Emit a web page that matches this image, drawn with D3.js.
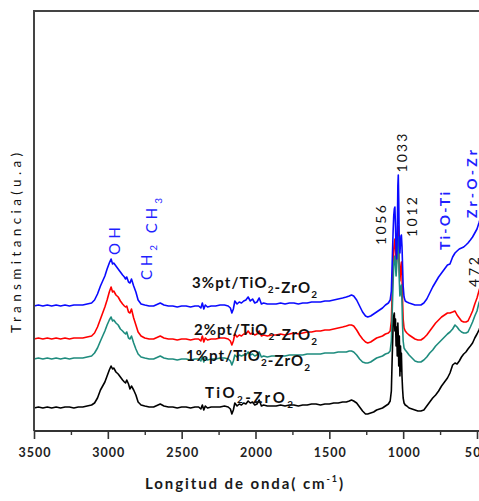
<!DOCTYPE html>
<html><head><meta charset="utf-8">
<script src="https://cdn.jsdelivr.net/npm/d3@7"></script>
<style>body{margin:0;background:#fff}svg{display:block}</style>
</head><body><svg id="c" width="479" height="501"></svg>
<script>
// wavenumber grid (cm^-1)
const wavenumbers = [
3500,3470,3440,3410,3380,3350,3320,3290,3260,3230,
3200,3170,3140,3110,3090,3070,3050,3035,3020,3005,
2990,2978,2968,2960,2945,2930,2915,2900,2888,2880,
2872,2860,2850,2840,2825,2810,2795,2775,2750,2720,
2690,2660,2645,2620,2590,2560,2530,2500,2470,2440,
2410,2385,2370,2360,2350,2340,2325,2300,2270,2240,
2210,2185,2170,2160,2150,2140,2125,2110,2095,2080,
2065,2050,2035,2020,2005,1990,1975,1960,1945,1920,
1890,1860,1830,1800,1770,1740,1710,1680,1650,1620,
1590,1560,1530,1500,1470,1440,1410,1385,1365,1350,
1335,1315,1295,1275,1255,1240,1220,1200,1180,1160,
1140,1120,1100,1088,1080,1074,1068,1064,1060,1056,
1052,1048,1044,1040,1036,1033,1030,1026,1022,1018,
1015,1012,1008,1004,1000,994,986,975,960,940,
920,900,880,860,840,820,800,780,760,740,
720,700,683,665,649,635,620,605,590,575,
561,545,530,515,500,487,475];

// transmittance (a.u., offset traces)
const tio2zro2 = [
23,24,23,24,23,24,23,24,24,23,
24,24,25,26,28,33,41,45,49,55,
61,65,62,63,59,57,54,51,49,48,
51,47,42,45,41,36,29,26,25,24,
24,26,27,25,24,24,23,24,24,23,
24,24,22,26,21,25,23,24,24,24,
25,24,22,17,21,28,25,27,26,28,
27,30,28,29,26,27,31,25,26,25,
25,25,26,25,26,26,25,26,26,27,
27,26,27,27,28,28,29,29,30,31,
30,28,24,20,17,17,18,19,21,22,
23,25,27,30,40,75,105,115,118,100,
112,85,104,75,108,95,65,95,55,85,
60,78,55,42,33,28,26,25,23,22,
21,20,20,21,25,29,33,36,40,45,
49,53,58,66,68,67,70,74,77,79,
82,85,88,93,97,101,105];

const pt1 = [
72,73,72,73,72,73,72,73,72,73,
73,73,74,75,78,83,90,95,100,106,
111,114,110,111,108,106,102,100,98,97,
99,93,92,95,88,82,77,74,73,72,
72,74,75,73,72,72,71,72,72,71,
72,72,70,75,69,73,71,72,72,73,
73,72,70,66,70,76,74,76,75,76,
76,79,76,77,75,76,79,74,75,74,
75,75,75,75,76,76,76,76,77,77,
77,77,78,78,78,79,79,79,80,80,
79,76,72,69,68,68,69,71,73,74,
75,77,78,80,90,120,150,165,172,175,
165,155,165,180,192,194,180,150,135,140,
144,146,130,105,90,83,81,79,76,73,
70,69,69,71,74,78,81,85,88,91,
94,97,99,102,106,104,101,99,98,98,
99,104,109,115,120,128,133];

const pt2 = [
92,93,92,93,92,93,92,93,92,93,
93,93,94,95,98,104,112,118,124,131,
139,144,139,140,136,134,130,127,125,124,
125,119,118,122,113,106,99,95,93,92,
92,94,95,93,92,92,91,92,92,91,
92,92,90,95,89,93,91,92,92,93,
93,92,90,86,90,97,94,96,95,97,
97,100,97,98,96,97,100,95,96,95,
96,96,97,96,97,98,97,98,99,99,
100,100,101,101,102,103,104,105,106,106,
105,101,96,92,89,88,89,91,93,94,
95,97,98,100,110,140,170,182,188,192,
180,165,170,185,200,205,190,160,150,160,
166,169,155,130,112,103,100,98,96,94,
92,91,91,93,96,100,104,108,111,114,
116,118,118,119,120,116,113,110,109,109,
110,115,120,127,133,140,146];

const pt3 = [
125,126,125,126,125,126,125,126,125,126,
126,126,127,128,131,137,145,150,155,162,
168,172,167,168,165,162,159,156,154,152,
154,149,148,152,145,139,131,127,126,125,
125,127,128,126,125,125,124,125,125,124,
125,125,123,128,122,126,124,125,125,126,
126,125,123,118,122,130,127,129,128,130,
131,134,130,132,128,129,133,127,128,127,
127,127,128,127,128,128,127,128,128,129,
129,129,130,130,131,132,133,134,135,136,
135,131,125,119,115,114,115,117,119,121,
123,126,128,131,140,170,200,215,222,224,
205,180,172,195,245,256,230,185,178,188,
195,196,185,165,145,134,130,129,128,127,
126,126,126,128,132,138,144,149,154,158,
162,166,167,174,178,180,182,183,184,186,
188,191,194,198,202,208,214];

const xTickValues = [3500,3000,2500,2000,1500,1000,500];
const xMinorTicks = [3250,2750,2250,1750,1250,750];
const seriesNames = ["TiO2-ZrO2","1%pt/TiO2-ZrO2","2%pt/TiO2-ZrO2","3%pt/TiO2-ZrO2"];
const seriesColors = ["#000000","#1e8c7e","#ff0000","#0a0aff"];

const svg = d3.select("#c");
svg.append("rect").attr("width",479).attr("height",501).attr("fill","#fff");

const x = d3.scaleLinear().domain([3500,500]).range([34,477]);
const y = d3.scaleLinear().domain([0,420]).range([431,11]);

const F = "Lato, 'Open Sans', sans-serif";

// traces (draw order: red, teal, black, blue)
const allSeries = [tio2zro2, pt1, pt2, pt3];
const line = d3.line().x((d,i)=>x(wavenumbers[i])).y(d=>y(d)).curve(d3.curveLinear);
[2,1,0,3].forEach(k=>{
  svg.append("path").datum(allSeries[k]).attr("d",line)
    .attr("fill","none").attr("stroke",seriesColors[k]).attr("stroke-width",1.6)
    .attr("stroke-linejoin","round");
});

// frame
svg.append("line").attr("x1",34).attr("x2",479).attr("y1",11).attr("y2",11).attr("stroke","#444").attr("stroke-width",2);
svg.append("line").attr("x1",34).attr("x2",34).attr("y1",10).attr("y2",431).attr("stroke","#444").attr("stroke-width",2);

// x axis
const gx = svg.append("g").attr("transform","translate(0,431)");
gx.call(d3.axisBottom(x).tickValues(xTickValues).tickSize(8).tickSizeOuter(0).tickPadding(9).tickFormat(d3.format("d")));
gx.select(".domain").remove();
gx.selectAll(".tick line").attr("stroke","#333").attr("stroke-width",1.6);
gx.selectAll(".tick text").attr("font-family",F).attr("font-weight","bold").attr("font-size",12.5)
  .attr("fill","#222").attr("textLength",d=>d===500?null:32).attr("lengthAdjust","spacing")
  .attr("letter-spacing",d=>d===500?"1.2px":null);
gx.append("line").attr("x1",34).attr("x2",479).attr("y1",0).attr("y2",0).attr("stroke","#333").attr("stroke-width",2);
const gm = svg.append("g").attr("transform","translate(0,431)");
gm.call(d3.axisBottom(x).tickValues(xMinorTicks).tickSize(4).tickSizeOuter(0).tickFormat(""));
gm.select(".domain").remove();
gm.selectAll(".tick line").attr("stroke","#333").attr("stroke-width",1.4);

// axis titles
const xt = svg.append("text").attr("x",244).attr("y",489).attr("text-anchor","middle")
  .attr("font-family",F).attr("font-weight","bold").attr("font-size",15).attr("fill","#1a1a1a")
  .attr("textLength",198).attr("lengthAdjust","spacing");
xt.append("tspan").text("Longitud de onda( cm");
xt.append("tspan").attr("font-size",9).attr("dy",-7).text("-1");
xt.append("tspan").attr("dy",7).text(")");

svg.append("text").attr("transform","translate(21,243) rotate(-90)").attr("text-anchor","middle")
  .attr("font-family",F).attr("font-size",13.5).attr("fill","#111")
  .attr("textLength",180).attr("lengthAdjust","spacing").text("Transmitancia(u.a)");

// sample labels
function chem(g, parts){
  parts.forEach(p=>{
    if(p.sub){ g.append("tspan").attr("font-size",10).attr("dy",5).text(p.t); g.append("tspan").attr("dy",-5).text(""); }
    else g.append("tspan").text(p.t);
  });
}
const sampleLabels = [
  {x:192,y:288,w:125,parts:[{t:"3%pt/TiO"},{t:"2",sub:1},{t:"-ZrO"},{t:"2",sub:1}]},
  {x:194,y:335,w:123,parts:[{t:"2%pt/TiO"},{t:"2",sub:1},{t:"-ZrO"},{t:"2",sub:1}]},
  {x:186,y:361,w:124,parts:[{t:"1%pt/TiO"},{t:"2",sub:1},{t:"-ZrO"},{t:"2",sub:1}]},
  {x:205,y:398,w:88,parts:[{t:"TiO"},{t:"2",sub:1},{t:"-ZrO"},{t:"2",sub:1}]}
];
sampleLabels.forEach(s=>{
  const t = svg.append("text").attr("x",s.x).attr("y",s.y).attr("font-family",F)
    .attr("font-weight","bold").attr("font-size",15).attr("fill","#111")
    .attr("textLength",s.w).attr("lengthAdjust","spacing");
  chem(t, s.parts);
});

// peak annotations (rotated)
function vlabel(bx, cy, txt, opts){
  const t = svg.append("text").attr("transform",`translate(${bx},${cy}) rotate(-90)`)
    .attr("text-anchor","middle").attr("font-family",F).attr("font-size",opts.size||14)
    .attr("font-weight",opts.bold?"bold":"normal").attr("fill",opts.color||"#111");
  if(opts.len) t.attr("textLength",opts.len).attr("lengthAdjust","spacing");
  if(typeof txt==="string") t.text(txt); else chem(t, txt);
}
vlabel(386,225,"1056",{len:40});
vlabel(407,153,"1033",{len:39});
vlabel(417,217,"1012",{len:40});
vlabel(479,272,"472",{len:30});
vlabel(450,221,"Ti-O-Ti",{len:58,bold:1,color:"#1f1fff"});
vlabel(477,184,"Zr-O-Zr",{len:68,bold:1,color:"#1f1fff"});
vlabel(120,241,"OH",{len:28,color:"#1f1fff",size:15});
vlabel(152,239,[{t:"CH"},{t:"2",sub:1},{t:" CH"},{t:"3",sub:1}],{len:82,color:"#1f1fff",size:15});
</script></body></html>
